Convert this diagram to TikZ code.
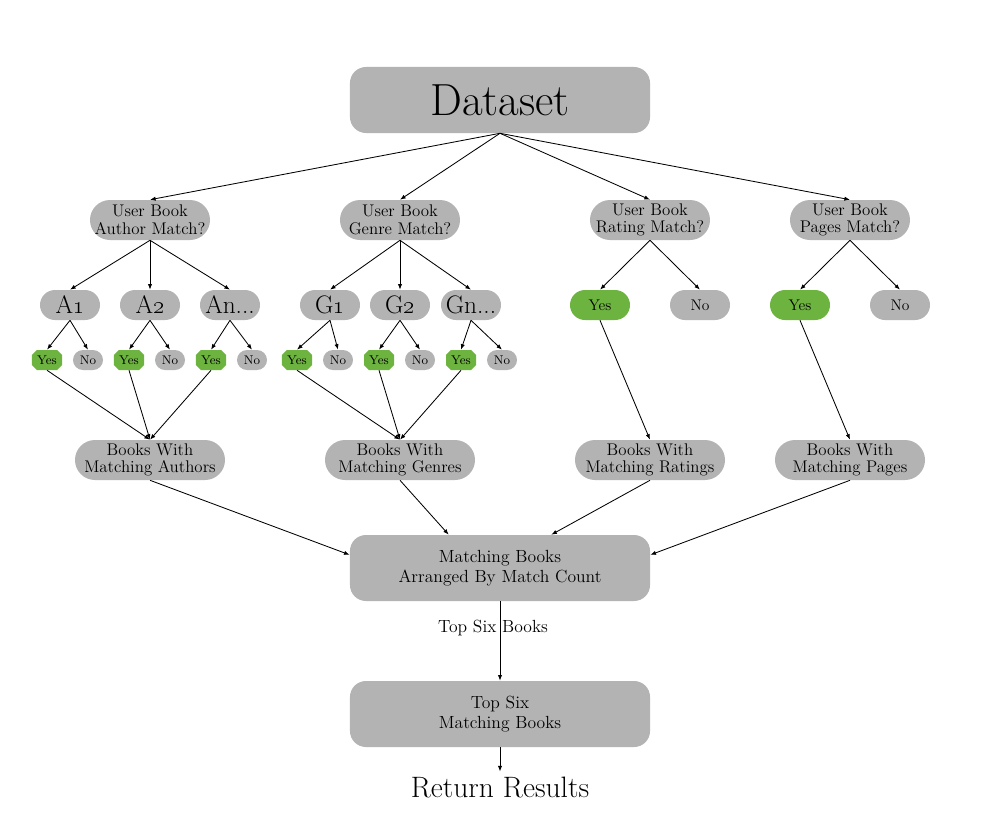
\documentclass[tikz,border=0pt]{standalone}
\usepackage{tikz}
\usetikzlibrary{positioning, arrows.meta, shapes.misc}
\definecolor{boxgray}{HTML}{B3B3B3}
\definecolor{yesgreen}{HTML}{6DB33F}

\begin{document}
\begin{tikzpicture}[x=0.025cm, y=-0.025cm,
  arr/.style={-{Latex[length=4pt,width=3pt]}, line width=0.6pt},
  bigbox/.style={fill=boxgray, rounded corners=0.4cm, align=center,
    minimum width=7.5cm, minimum height=1.65cm, inner sep=0pt},
  qbox/.style={fill=boxgray, rounded corners=0.5cm, align=center,
    minimum width=3cm, minimum height=1cm, inner sep=0pt,
    font=\fontsize{12}{12.5}\selectfont},
  resbox/.style={qbox, minimum width=3.75cm},
  valbox/.style={fill=boxgray, rounded corners=0.375cm,
    minimum width=1.5cm, minimum height=0.75cm, inner sep=0pt,
    font=\fontsize{18}{20}\selectfont},
  ansbox/.style={valbox, font=\fontsize{11}{13}\selectfont},
  smallno/.style={fill=boxgray, rounded corners=0.25cm,
    minimum width=0.75cm, minimum height=0.5cm, inner sep=0pt,
    font=\fontsize{9}{10}\selectfont},
  smallyes/.style={chamfered rectangle, chamfered rectangle xsep=0.06cm,
    chamfered rectangle ysep=0.06cm, fill=yesgreen,
    minimum width=0.75cm, minimum height=0.5cm, inner sep=0pt,
    font=\fontsize{9}{10}\selectfont}]
\useasboundingbox (0,0) rectangle (1000,825);

% dataset
\node[bigbox, font=\fontsize{32}{38}\selectfont] (data) at (500,100) {Dataset};

% questions
\foreach \x/\nm/\txt in {150/auth/Author, 400/genre/Genre, 650/rate/Rating, 850/page/Pages}{
  \node[qbox] (\nm) at (\x,220) {User Book\\\txt\ Match?};
  \draw[arr] (data.south) -- (\nm.north);
}

% author and genre values
\node[valbox] (a1) at (70,305) {A\oldstylenums{1}};
\node[valbox] (a2) at (150,305) {A\oldstylenums{2}};
\node[valbox] (an) at (230,305) {An...};
\node[valbox] (g1) at (330,305) {G\oldstylenums{1}};
\node[valbox] (g2) at (400,305) {G\oldstylenums{2}};
\node[valbox] (gn) at (471,305) {Gn...};
\foreach \v in {a1,a2,an}{\draw[arr] (auth.south) -- (\v.north);}
\foreach \v in {g1,g2,gn}{\draw[arr] (genre.south) -- (\v.north);}

% yes / no under each value
\foreach \p/\y/\n in {a1/47/88, a2/129/170, an/211/252, g1/297/338, g2/379/420, gn/461/502}{
  \node[smallyes] (\p y) at (\y,360) {Yes};
  \node[smallno] (\p n) at (\n,360) {No};
  \draw[arr] (\p.south) -- (\p y.north);
  \draw[arr] (\p.south) -- (\p n.north);
}

% rating and pages answers
\foreach \nm/\x in {rate/600, page/800}{
  \node[ansbox, fill=yesgreen] (\nm y) at (\x,305) {Yes};
  \node[ansbox] (\nm n) at (\x+100,305) {No};
  \draw[arr] (\nm.south) -- (\nm y.north);
  \draw[arr] (\nm.south) -- (\nm n.north);
}

% results per criterion
\node[resbox] (bauth) at (150,460) {Books With\\Matching Authors};
\node[resbox] (bgenre) at (400,460) {Books With\\Matching Genres};
\node[resbox] (brate) at (650,460) {Books With\\Matching Ratings};
\node[resbox] (bpage) at (850,460) {Books With\\Matching Pages};
\foreach \v in {a1y,a2y,any}{\draw[arr] (\v.south) -- (bauth.north);}
\foreach \v in {g1y,g2y,gny}{\draw[arr] (\v.south) -- (bgenre.north);}
\draw[arr] (ratey.south) -- (brate.north);
\draw[arr] (pagey.south) -- (bpage.north);

% merge
\node[bigbox, font=\fontsize{12.5}{14}\selectfont] (merge) at (500,568) {Matching Books\\Arranged By Match Count};
\draw[arr] (bauth.south) -- (merge.175);
\draw[arr] (bgenre.south) -- (merge.147);
\draw[arr] (brate.south) -- (merge.33);
\draw[arr] (bpage.south) -- (merge.5);

\node[bigbox, font=\fontsize{12.5}{14}\selectfont] (top) at (500,714) {Top Six\\Matching Books};
\draw[arr] (merge.south) -- node[pos=0.34, xshift=-5pt, font=\fontsize{12.5}{14}\selectfont] {Top Six Books} (top.north);

\node[font=\fontsize{21}{25}\selectfont] (ret) at (500,787) {Return Results};
\draw[arr] (top.south) -- (ret.north);
\end{tikzpicture}
\end{document}
